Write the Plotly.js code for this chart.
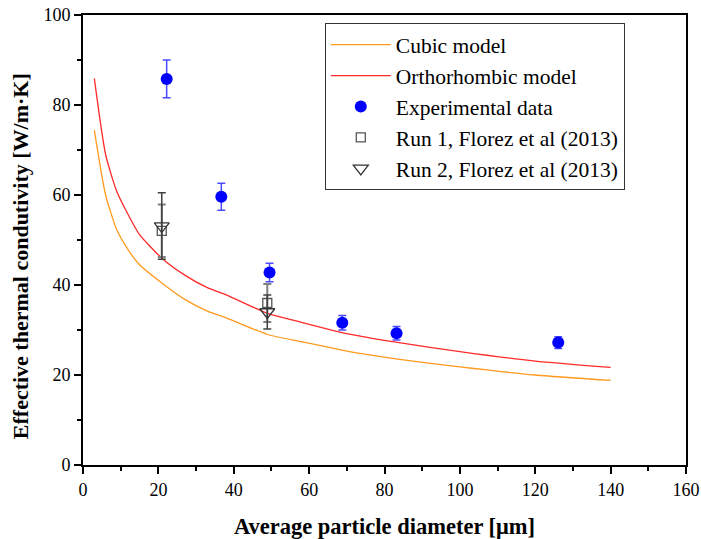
<!DOCTYPE html>
<html>
<head>
<meta charset="utf-8">
<script src="https://cdn.plot.ly/plotly-3.0.1.min.js"></script>
<style>html,body{margin:0;padding:0;background:#fff}#chart{width:701px;height:539px}</style>
</head>
<body>
<div id="chart"></div>
<script>
// Model curves
const modelX = [3, 6, 9, 12, 15, 21, 27, 33, 38, 49, 58, 70, 83, 100, 120, 140];
const cubicY = [74.4, 60.0, 52.2, 47.8, 44.5, 40.4, 36.8, 34.2, 32.7, 29.0, 27.4, 25.3, 23.6, 21.8, 20.0, 18.8];
const orthoY = [85.9, 69.0, 60.7, 55.6, 51.2, 45.9, 42.2, 39.4, 37.8, 33.7, 31.7, 29.2, 27.3, 25.2, 23.1, 21.7];

// Experimental data
const expX = [22.2, 36.7, 49.5, 68.8, 83.2, 126.1];
const expY = [85.8, 59.6, 42.8, 31.6, 29.3, 27.2];
const expErr = [4.2, 3.0, 2.05, 1.6, 1.5, 1.3];

// Florez et al (2013)
const run1X = [20.9, 48.9];
const run1Y = [52.05, 36.0];
const run1Err = [5.85, 4.2];
const run2X = [20.9, 48.9];
const run2Y = [53.1, 34.0];
const run2Err = [7.4, 3.8];

const xTicks = [0, 20, 40, 60, 80, 100, 120, 140, 160];
const yTicks = [0, 20, 40, 60, 80, 100];

const serif = "'Liberation Serif', 'Times New Roman', serif";

const traces = [
  {x: modelX, y: cubicY, mode: 'lines', name: 'Cubic model',
   line: {color: '#ff9a1f', width: 1.3, shape: 'spline', smoothing: 0.6}},
  {x: modelX, y: orthoY, mode: 'lines', name: 'Orthorhombic model',
   line: {color: '#ff2a2a', width: 1.3, shape: 'spline', smoothing: 0.6}},
  {x: expX, y: expY, mode: 'markers', name: 'Experimental data',
   marker: {color: '#0000ff', size: 12, symbol: 'circle'},
   error_y: {type: 'data', array: expErr, visible: true, color: '#4a4aff', thickness: 1.5, width: 4}},
  {x: run1X, y: run1Y, mode: 'markers', name: 'Run 1, Florez et al (2013)',
   marker: {color: '#555', size: 9, symbol: 'square-open', line: {width: 1.3}},
   error_y: {type: 'data', array: run1Err, visible: true, color: '#808080', thickness: 2, width: 4}},
  {x: run2X, y: run2Y, mode: 'markers', name: 'Run 2, Florez et al (2013)',
   marker: {color: '#333', size: 13, symbol: 'triangle-down-open', line: {width: 1.3}},
   error_y: {type: 'data', array: run2Err, visible: true, color: '#404040', thickness: 1.5, width: 4}}
];

const layout = {
  width: 701, height: 539,
  margin: {l: 83, r: 15, t: 15, b: 74},
  paper_bgcolor: '#fff', plot_bgcolor: '#fff',
  font: {family: serif, color: '#000', size: 18},
  showlegend: true,
  legend: {x: 0.401, y: 0.982, xanchor: 'left', yanchor: 'top',
    bgcolor: 'rgba(255,255,255,0)', bordercolor: '#333', borderwidth: 1,
    font: {family: serif, size: 21.5, color: '#000'}, itemwidth: 60, tracegroupgap: 0},
  xaxis: {range: [0, 160], tickvals: xTicks, ticktext: xTicks.map(String),
    showgrid: false, zeroline: false, showline: true, linecolor: '#000', linewidth: 2,
    mirror: true, ticks: 'outside', ticklen: 7, tickwidth: 2, tickcolor: '#000',
    minor: {dtick: 10, ticks: 'outside', ticklen: 4, tickwidth: 2, tickcolor: '#000', showgrid: false},
    tickfont: {family: serif, size: 18},
    title: {text: '<b>Average particle diameter [μm]</b>', font: {family: serif, size: 22.5}, standoff: 26}},
  yaxis: {range: [0, 100], tickvals: yTicks, ticktext: yTicks.map(String),
    showgrid: false, zeroline: false, showline: true, linecolor: '#000', linewidth: 2,
    mirror: true, ticks: 'outside', ticklen: 7, tickwidth: 2, tickcolor: '#000',
    minor: {dtick: 10, ticks: 'outside', ticklen: 4, tickwidth: 2, tickcolor: '#000', showgrid: false},
    tickfont: {family: serif, size: 18}},
  annotations: [{
    text: '<b>Effective thermal condutivity [W/m·K]</b>', textangle: -90,
    xref: 'paper', yref: 'paper', x: -0.1045, y: 0.464, xanchor: 'center', yanchor: 'middle',
    showarrow: false, font: {family: serif, size: 22, color: '#000'}
  }]
};

Plotly.newPlot('chart', traces, layout, {staticPlot: true, displayModeBar: false});
</script>
</body>
</html>
